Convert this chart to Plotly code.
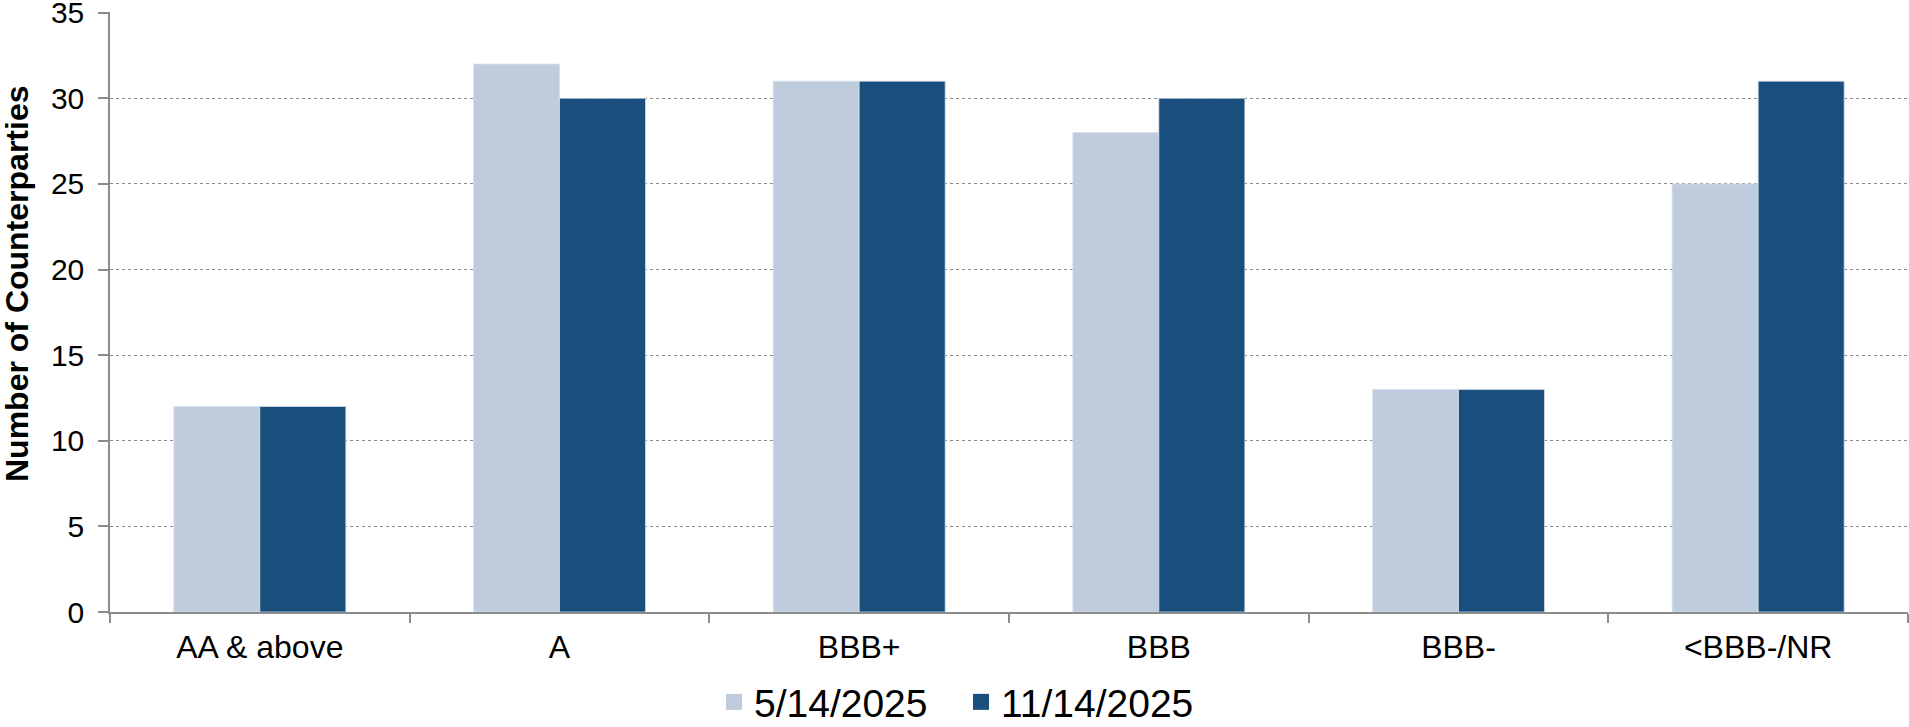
import plotly.graph_objects as go

# Counterparty counts by credit rating bucket at two snapshot dates
ratings = ["AA & above", "A", "BBB+", "BBB", "BBB-", "<BBB-/NR"]
may_2025 = [12, 32, 31, 28, 13, 25]
nov_2025 = [12, 30, 31, 30, 13, 31]
series_names = ["5/14/2025", "11/14/2025"]
series_colors = ["#BFCCDD", "#194E7D"]

W, H = 1909, 727
M_L, M_R, M_T, M_B = 110, 1, 12, 115
plot_w = W - M_L - M_R
plot_h = H - M_T - M_B

FONT = "Liberation Sans, Arial, sans-serif"
AXIS_GRAY = "#8C8C8C"

fig = go.Figure()

for name, vals, col in zip(series_names, [may_2025, nov_2025], series_colors):
    fig.add_trace(go.Bar(
        x=ratings, y=vals, name=name,
        marker=dict(color=col, line=dict(color="rgba(215,224,236,0.75)", width=1)),
        showlegend=False,
    ))

# Legend entries with larger square swatches
for name, col in zip(series_names, series_colors):
    fig.add_trace(go.Scatter(
        x=[None], y=[None], mode="markers", name=name,
        marker=dict(symbol="square", size=20, color=col),
        showlegend=True,
    ))

fig.update_layout(
    width=W, height=H,
    margin=dict(l=M_L, r=M_R, t=M_T, b=M_B, pad=0, autoexpand=False),
    paper_bgcolor="white", plot_bgcolor="white",
    font=dict(family=FONT, color="black", size=30),
    barmode="group", bargap=0.426, bargroupgap=0,
    legend=dict(
        orientation="h",
        x=(961 - M_L) / plot_w, xanchor="center",
        y=(M_T + plot_h - 702) / plot_h, yanchor="middle",
        font=dict(size=39, family=FONT, color="black"),
        itemsizing="trace",
        entrywidth=202, entrywidthmode="pixels",
        tracegroupgap=0,
        bgcolor="rgba(0,0,0,0)",
    ),
    showlegend=True,
)

fig.update_xaxes(
    type="category",
    showline=True, linecolor=AXIS_GRAY, linewidth=1.5,
    ticks="outside", tickson="boundaries", ticklen=9, tickwidth=1.5,
    tickcolor=AXIS_GRAY,
    tickfont=dict(size=32, family=FONT, color="black"),
    ticklabelstandoff=6, ticklabeloverflow="allow",
    showgrid=False, zeroline=False,
)

fig.update_yaxes(
    range=[0, 35.04], dtick=5, tick0=0,
    showline=True, linecolor=AXIS_GRAY, linewidth=1.5,
    ticks="outside", ticklen=10, tickwidth=1.5, tickcolor=AXIS_GRAY,
    tickfont=dict(size=30, family=FONT, color="black"),
    ticklabelstandoff=8, ticklabeloverflow="allow",
    showgrid=True, gridcolor="#8A8A8A", gridwidth=1, griddash="dot",
    zeroline=False,
)

# Rotated axis title
fig.add_annotation(
    text="<b>Number of Counterparties</b>",
    xref="paper", yref="paper",
    x=(17 - M_L) / plot_w, y=(M_T + plot_h - 284) / plot_h,
    xanchor="center", yanchor="middle",
    textangle=-90, showarrow=False,
    font=dict(size=32, family=FONT, color="black"),
)

fig.write_html("out.html")
